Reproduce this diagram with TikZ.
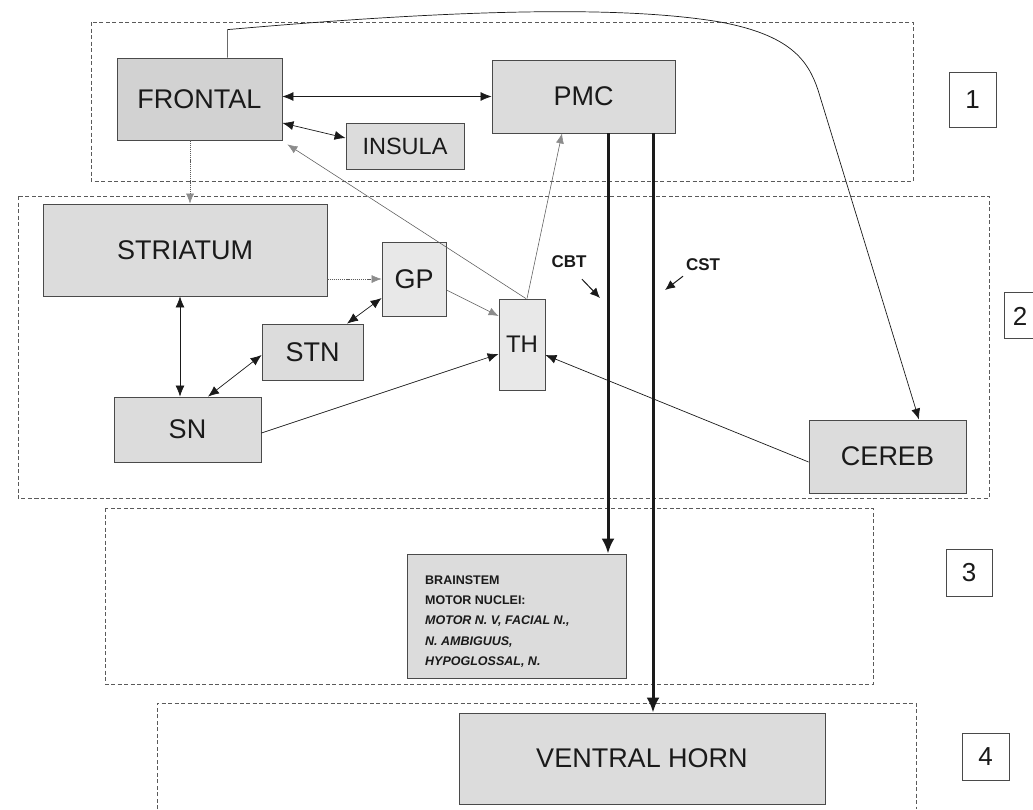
\documentclass[tikz,border=0pt]{standalone}
\usepackage{fontspec}
\setmainfont{Liberation Sans}
\usetikzlibrary{arrows.meta,calc}
\definecolor{boxfill}{HTML}{DCDCDC}
\definecolor{boxdark}{HTML}{D2D2D2}
\definecolor{boxlight}{HTML}{E8E8E8}
\definecolor{edge}{HTML}{4A4A4A}
\definecolor{ink}{HTML}{1A1A1A}
\definecolor{garrow}{HTML}{8C8C8C}
\definecolor{gline}{HTML}{5A5A5A}
\definecolor{regline}{HTML}{5A5A5A}
\begin{document}
\begin{tikzpicture}[x=1pt,y=-1pt,
  region/.style={draw=regline, line width=0.7pt, dash pattern=on 4pt off 2.5pt},
  area/.style={draw=edge, line width=0.8pt, fill=boxfill, inner sep=0pt, text=ink,
    font=\fontsize{27}{30}\selectfont},
  numbox/.style={draw=edge, line width=0.7pt, fill=white, inner sep=0pt, text=ink,
    font=\fontsize{26}{28}\selectfont},
  barrow/.style={draw=ink, line width=0.7pt, -{Latex[length=11pt,width=9pt]}},
  bboth/.style={draw=ink, line width=0.7pt, {Latex[length=11pt,width=9pt]}-{Latex[length=11pt,width=9pt]}},
  garr/.style={draw=gline, line width=0.55pt, -{Latex[length=10pt,width=8pt,color=garrow]}},
  gdot/.style={garr, dash pattern=on 1.2pt off 0.9pt},
  tract/.style={draw=ink, line width=3pt, -{Latex[length=15pt,width=13pt]}},
  lblarrow/.style={draw=ink, line width=1pt, -{Latex[length=10pt,width=9pt]}},
  tractlabel/.style={inner sep=0pt, text=ink, font=\fontsize{17}{19}\selectfont\bfseries}
]
\useasboundingbox (0,0) rectangle (1033,809);
\fill[white] (0,0) rectangle (1033,809);

% regions
\draw[region] (91,22) rectangle (913,181);
\draw[region] (18,196) rectangle (989,498);
\draw[region] (105,508) rectangle (873,684);
\draw[region] (157,809) -- (157,703) -- (916,703) -- (916,809);

% nodes
\node[area, fill=boxdark, minimum width=165, minimum height=82] (frontal) at (199.5,99) {FRONTAL};
\node[area, minimum width=183, minimum height=73] (pmc) at (583.5,96.5) {PMC};
\node[area, minimum width=118, minimum height=46, font=\fontsize{23.5}{26}\selectfont] (insula) at (405,146) {INSULA};
\node[area, minimum width=284, minimum height=92] (striatum) at (185,250) {STRIATUM};
\node[area, fill=boxlight, minimum width=64, minimum height=74] (gp) at (414,279) {GP};
\node[area, minimum width=101, minimum height=56] (stn) at (312.5,352) {STN};
\node[area, minimum width=147, minimum height=65] (sn) at (187.5,429.5) {SN};
\node[area, fill=boxlight, minimum width=46, minimum height=91, font=\fontsize{24}{26}\selectfont] (th) at (522,344.5) {TH};
\node[area, minimum width=157, minimum height=73] (cereb) at (887.5,456.5) {CEREB};
\node[area, minimum width=219, minimum height=124] (brainstem) at (516.5,616) {};
\node[anchor=west, inner sep=0pt, align=left, text=ink,
  font=\fontsize{12.5}{20.2}\selectfont\bfseries] (bstext) at (425,621.5)
  {BRAINSTEM\\MOTOR NUCLEI:\\\itshape MOTOR N. V, FACIAL N.,\\\itshape N. AMBIGUUS,\\\itshape HYPOGLOSSAL, N.};
\node[area, minimum width=366, minimum height=91] (ventral) at (642,758.5) {VENTRAL HORN};

% number boxes
\node[numbox, minimum width=47, minimum height=55] (n1) at (972.5,99.5) {1};
\draw[draw=edge, line width=0.7pt] (1033,292) -- (1004,292) -- (1004,338) -- (1033,338);
\node[inner sep=0pt, text=ink, font=\fontsize{26}{28}\selectfont] (n2) at (1020,316) {2};
\node[numbox, minimum width=46, minimum height=47] (n3) at (969,572.5) {3};
\node[numbox, minimum width=47, minimum height=47] (n4) at (985.5,756.5) {4};

% connectors
\draw[bboth] (pmc.west -| frontal.east) -- (pmc.west);
\draw[bboth] ($(frontal.east)+(0,24)$) -- ($(insula.west)+(0,-8)$);
\draw[garr] ($(th.north)+(4,0)$) -- ($(frontal.south east)+(5,4)$);
\draw[garr] ($(th.north)+(5,0)$) -- ($(pmc.south)+(-21.5,0)$);
\draw[gdot] ($(frontal.south)+(-9.5,0)$) coordinate (fs) -- (fs |- striatum.north);
\draw[gdot] (gp.west -| striatum.east) -- (gp.west);
\draw[bboth] ($(striatum.south)+(-5,0)$) coordinate (ss) -- (ss |- sn.north);
\draw[bboth] ($(sn.north)+(20.5,0)$) -- ($(stn.west)+(0,3)$);
\draw[bboth] ($(stn.north)+(34.5,0)$) -- ($(gp.west)+(0,19)$);
\draw[garr] ($(gp.east)+(0,11)$) -- ($(th.west)+(0,-28.5)$);
\draw[barrow] ($(sn.east)+(0,3.5)$) -- ($(th.west)+(0,9.5)$);
\draw[barrow] ($(cereb.west)+(0,5.5)$) -- ($(th.east)+(0,10.5)$);

% long curved connector frontal -> cereb
\draw[barrow] ($(frontal.north west)+(111,0)$) -- ++(0,-28)
  .. controls (450,10) and (620,5) .. (720,22)
  .. controls (790,35) and (808,60) .. (818,90)
  -- ($(cereb.north)+(31.5,0)$);

% tracts
\draw[tract] ($(pmc.south)+(24.5,0)$) coordinate (cbt) -- (cbt |- brainstem.north);
\draw[tract] ($(pmc.south)+(69.5,0)$) coordinate (cst) -- (cst |- ventral.north);

% tract labels
\node[tractlabel] (cbtl) at (569,262) {CBT};
\node[tractlabel] (cstl) at (703,265) {CST};
\coordinate (cbttip) at (600,298);
\coordinate (csttip) at (665,290);
\draw[lblarrow] ($(cbtl.south)+(13,11)$) -- (cbttip);
\draw[lblarrow] ($(cstl.south)+(-20,5)$) -- (csttip);
\end{tikzpicture}
\end{document}
